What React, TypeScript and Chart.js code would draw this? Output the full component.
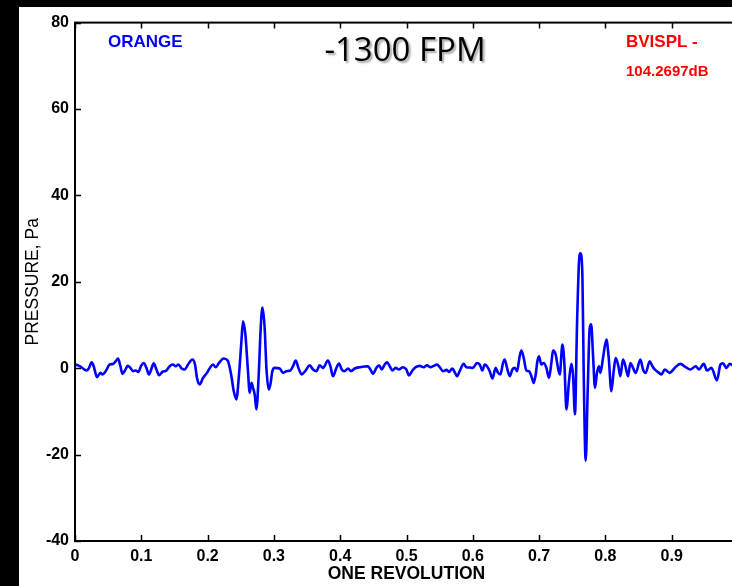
import React, { useEffect, useRef } from "react";
import { Chart, registerables } from "chart.js";

Chart.register(...registerables);

// Pressure trace over one revolution (x = fraction of revolution, y = Pa)
const REV: number[] = [
  0.0011, 0.0071, 0.0121, 0.0172, 0.0207, 0.0252, 0.0282, 0.0332, 0.0383, 0.0413,
  0.0463, 0.0523, 0.0573, 0.0614, 0.0649, 0.0685, 0.0715, 0.0754, 0.0795, 0.0836,
  0.0875, 0.0916, 0.0956, 0.0995, 0.1036, 0.1077, 0.1116, 0.1157, 0.1187, 0.1228,
  0.1267, 0.1318, 0.1379, 0.1428, 0.1478, 0.1519, 0.1560, 0.1609, 0.1655, 0.1704,
  0.1771, 0.1810, 0.1840, 0.1881, 0.1931, 0.1991, 0.2042, 0.2081, 0.2122, 0.2172,
  0.2243, 0.2303, 0.2359, 0.2394, 0.2434, 0.2474, 0.2510, 0.2534, 0.2570, 0.2609,
  0.2635, 0.2661, 0.2685, 0.2710, 0.2736, 0.2771, 0.2801, 0.2827, 0.2861, 0.2887,
  0.2922, 0.2947, 0.2977, 0.3012, 0.3088, 0.3137, 0.3189, 0.3249, 0.3288, 0.3329,
  0.3370, 0.3419, 0.3480, 0.3540, 0.3590, 0.3641, 0.3691, 0.3741, 0.3816, 0.3852,
  0.3891, 0.3943, 0.3982, 0.4023, 0.4063, 0.4118, 0.4163, 0.4219, 0.4294, 0.4419,
  0.4456, 0.4495, 0.4546, 0.4585, 0.4626, 0.4671, 0.4706, 0.4747, 0.4787, 0.4837,
  0.4887, 0.4947, 0.4998, 0.5038, 0.5089, 0.5139, 0.5199, 0.5260, 0.5309, 0.5360,
  0.5410, 0.5460, 0.5501, 0.5551, 0.5602, 0.5641, 0.5692, 0.5732, 0.5762, 0.5802,
  0.5862, 0.5903, 0.5953, 0.6003, 0.6063, 0.6104, 0.6145, 0.6179, 0.6214, 0.6255,
  0.6296, 0.6345, 0.6380, 0.6416, 0.6456, 0.6481, 0.6516, 0.6557, 0.6597, 0.6632,
  0.6667, 0.6707, 0.6733, 0.6768, 0.6808, 0.6848, 0.6884, 0.6919, 0.6949, 0.6974,
  0.6998, 0.7035, 0.7069, 0.7110, 0.7149, 0.7185, 0.7210, 0.7250, 0.7285, 0.7311,
  0.7352, 0.7382, 0.7412, 0.7451, 0.7487, 0.7511, 0.7541, 0.7572, 0.7602, 0.7623,
  0.7653, 0.7673, 0.7703, 0.7733, 0.7763, 0.7786, 0.7813, 0.7843, 0.7873, 0.7903,
  0.7925, 0.7964, 0.8015, 0.8050, 0.8090, 0.8125, 0.8155, 0.8196, 0.8226, 0.8265,
  0.8296, 0.8341, 0.8377, 0.8416, 0.8457, 0.8528, 0.8567, 0.8608, 0.8668, 0.8709,
  0.8744, 0.8808, 0.8845, 0.8895, 0.8970, 0.9045, 0.9131, 0.9211, 0.9282, 0.9362,
  0.9412, 0.9483, 0.9532, 0.9599, 0.9683, 0.9735, 0.9774, 0.9825, 0.9875, 0.9950,
];

const PRESSURE: number[] = [
  0.85, 0.46, -0.07, -0.53, -0.07, 1.38, 0.46, -2.07, -1.08, -1.45,
  -0.69, 0.85, 0.99, 1.61, 2.24, 0.46, -1.31, -0.53, 0.53, 0.07,
  -0.69, -0.53, -0.85, 0.46, 1.22, 0.07, -1.45, 0.07, 1.15, -0.30,
  -1.61, -0.85, -0.53, 0.46, 0.85, 0.46, 0.85, -0.07, -0.30, 0.85,
  2.00, 0.85, -2.24, -3.76, -2.24, -1.08, 0.23, 0.85, 0.23, 1.22,
  2.24, 1.77, -1.84, -5.30, -7.21, -1.45, 6.22, 10.83, 7.76, -0.69,
  -5.69, -3.39, -4.54, -6.06, -9.52, -1.45, 9.29, 14.06, 9.29, 0.07,
  -4.91, -3.76, -0.69, 0.07, -0.07, -1.08, -0.69, -0.53, 0.46, 1.77,
  0.07, -1.45, -0.53, 0.69, -0.30, -0.69, 0.69, 0.07, 1.77, 0.46,
  -1.84, 0.07, 1.08, -0.30, -0.69, -0.07, -0.69, -0.07, 0.23, 0.46,
  -0.30, -1.31, 0.07, 0.69, -0.30, 0.85, 1.38, 0.46, -0.53, 0.07,
  -0.30, 0.23, -0.30, -1.68, -0.53, 0.23, 0.53, 0.23, 0.69, 0.23,
  0.53, 0.85, 0.23, -0.69, -0.39, -0.85, -0.07, -1.08, -1.84, -0.69,
  0.99, 0.23, 0.16, 0.07, 1.22, 0.85, -0.53, 0.85, 0.46, -0.69,
  -2.37, 0.07, -1.08, -1.45, 1.22, 2.00, 0.07, -1.84, -0.30, 0.07,
  -0.69, 2.76, 4.08, 2.37, -0.53, -0.69, -1.84, -3.39, -1.45, 1.61,
  2.76, 0.85, 1.22, 0.07, -2.24, 1.22, 4.08, 3.16, 0.07, -1.45,
  5.46, 0.85, -9.52, -3.00, 0.99, -1.45, -10.67, 10.07, 24.65, 26.57,
  21.59, -1.45, -21.43, -5.30, 9.29, 10.14, 3.16, -4.54, -1.08, 0.46,
  -1.08, 2.37, 6.61, 2.37, -5.30, -0.69, 2.37, 0.46, -1.84, 2.00,
  0.85, -1.84, 1.22, 0.07, -1.08, 2.00, -0.30, -1.08, 1.61, 0.46,
  -0.30, -1.08, -1.45, -0.30, -1.08, 0.07, 0.99, 0.23, -0.30, 0.46,
  -0.30, 0.99, -0.53, 0.07, -2.83, 0.85, 1.15, 0.07, 0.99, 0.30,
];

const X_TICKS: number[] = [0, 0.1, 0.2, 0.3, 0.4, 0.5, 0.6, 0.7, 0.8, 0.9, 1];
const X_TICK_LABELS: string[] = ["0", "0.1", "0.2", "0.3", "0.4", "0.5", "0.6", "0.7", "0.8", "0.9", "1"];
const Y_TICKS: number[] = [-40, -20, 0, 20, 40, 60, 80];
const Y_TICK_LABELS: string[] = ["-40", "-20", "0", "20", "40", "60", "80"];

const TITLE = "-1300 FPM";
const LEFT_NOTE = "ORANGE";
const RIGHT_NOTE_1 = "BVISPL -";
const RIGHT_NOTE_2 = "104.2697dB";
const X_TITLE = "ONE REVOLUTION";
const Y_TITLE = "PRESSURE, Pa";

const CANVAS_W = 730;
const CANVAS_H = 579;

const framePlugin = {
  id: "frameTicks",
  afterDatasetsDraw(chart: any) {
    const { ctx, chartArea, scales } = chart;
    const { left, right, top, bottom } = chartArea;
    const len = 6;
    ctx.save();
    ctx.strokeStyle = "#000";
    ctx.lineWidth = 1.5;
    ctx.beginPath();
    scales.x.ticks.forEach((t: any) => {
      const px = Math.round(scales.x.getPixelForValue(t.value)) + 0.5;
      ctx.moveTo(px, bottom);
      ctx.lineTo(px, bottom - len);
      ctx.moveTo(px, top);
      ctx.lineTo(px, top + len);
    });
    scales.y.ticks.forEach((t: any) => {
      const py = Math.round(scales.y.getPixelForValue(t.value)) + 0.5;
      ctx.moveTo(left, py);
      ctx.lineTo(left + len, py);
      ctx.moveTo(right, py);
      ctx.lineTo(right - len, py);
    });
    ctx.stroke();
    ctx.lineWidth = 2;
    ctx.strokeRect(left, top, right - left, bottom - top);
    ctx.restore();
  },
  afterDraw(chart: any) {
    const { ctx } = chart;
    ctx.save();
    ctx.textBaseline = "middle";
    ctx.textAlign = "left";
    ctx.font = "bold 17px 'Liberation Sans', Arial, sans-serif";
    ctx.fillStyle = "#0000ff";
    ctx.fillText(LEFT_NOTE, 89, 35);
    ctx.fillStyle = "#ff0000";
    ctx.font = "bold 17px 'Liberation Sans', Arial, sans-serif";
    ctx.fillText(RIGHT_NOTE_1, 607, 35);
    ctx.font = "bold 15px 'Liberation Sans', Arial, sans-serif";
    ctx.fillText(RIGHT_NOTE_2, 607, 65);
    ctx.textAlign = "center";
    ctx.font = "33px 'Open Sans', sans-serif";
    ctx.shadowColor = "rgba(0,0,0,0.35)";
    ctx.shadowOffsetX = 2;
    ctx.shadowOffsetY = 2;
    ctx.shadowBlur = 2;
    ctx.fillStyle = "#000";
    ctx.fillText(TITLE, 386, 45);
    ctx.restore();
  },
};

export default function App() {
  const ref = useRef<HTMLCanvasElement | null>(null);

  useEffect(() => {
    if (!ref.current) return;
    const points = REV.map((x, i) => ({ x, y: PRESSURE[i] }));
    const tickFont = { family: "'Liberation Sans', Arial, sans-serif", size: 16, weight: "bold" as const };
    const chart = new Chart(ref.current, {
      type: "line",
      data: {
        datasets: [
          {
            data: points,
            borderColor: "#0000ff",
            borderWidth: 2.6,
            pointRadius: 0,
            cubicInterpolationMode: "monotone",
            fill: false,
          },
        ],
      },
      options: {
        animation: false,
        responsive: false,
        devicePixelRatio: 1,
        layout: { padding: { top: 13, right: 11, left: 0, bottom: 0 } },
        plugins: { legend: { display: false }, tooltip: { enabled: false }, title: { display: false } },
        scales: {
          x: {
            type: "linear",
            min: 0,
            max: 1,
            afterBuildTicks: (s: any) => {
              s.ticks = X_TICKS.map((v) => ({ value: v }));
            },
            afterFit: (s: any) => {
              s.height = 45;
            },
            ticks: {
              color: "#000",
              font: tickFont,
              padding: 6,
              maxRotation: 0,
              autoSkip: false,
              callback: (v: any) => {
                const i = X_TICKS.findIndex((t) => Math.abs(t - Number(v)) < 1e-9);
                return i >= 0 ? X_TICK_LABELS[i] : "";
              },
            },
            grid: { display: false, drawTicks: false },
            border: { display: false },
            title: {
              display: true,
              text: X_TITLE,
              color: "#000",
              font: { family: "'Liberation Sans', Arial, sans-serif", size: 17.5, weight: "bold" },
              padding: { top: 0, bottom: 1 },
            },
          },
          y: {
            type: "linear",
            min: -40,
            max: 80,
            afterBuildTicks: (s: any) => {
              s.ticks = Y_TICKS.map((v) => ({ value: v }));
            },
            afterFit: (s: any) => {
              s.width = 56;
            },
            ticks: {
              color: "#000",
              font: tickFont,
              padding: 6,
              autoSkip: false,
              callback: (v: any) => {
                const i = Y_TICKS.indexOf(Number(v));
                return i >= 0 ? Y_TICK_LABELS[i] : "";
              },
            },
            grid: { display: false, drawTicks: false },
            border: { display: false },
            title: {
              display: true,
              text: Y_TITLE,
              color: "#000",
              font: { family: "'Liberation Sans', Arial, sans-serif", size: 17.5, weight: "normal" },
              padding: { top: 4, bottom: 0 },
            },
          },
        },
      },
      plugins: [framePlugin],
    } as any);
    return () => chart.destroy();
  }, []);

  return (
    <div style={{ position: "fixed", left: 0, top: 0, width: 732, height: 586, background: "#000", overflow: "hidden" }}>
      <div style={{ position: "absolute", left: 19, top: 7, right: 0, bottom: 0, background: "#fff", overflow: "hidden" }}>
        <canvas
          ref={ref}
          width={CANVAS_W}
          height={CANVAS_H}
          style={{ position: "absolute", left: 0, top: 0, width: CANVAS_W, height: CANVAS_H }}
        />
      </div>
    </div>
  );
}
